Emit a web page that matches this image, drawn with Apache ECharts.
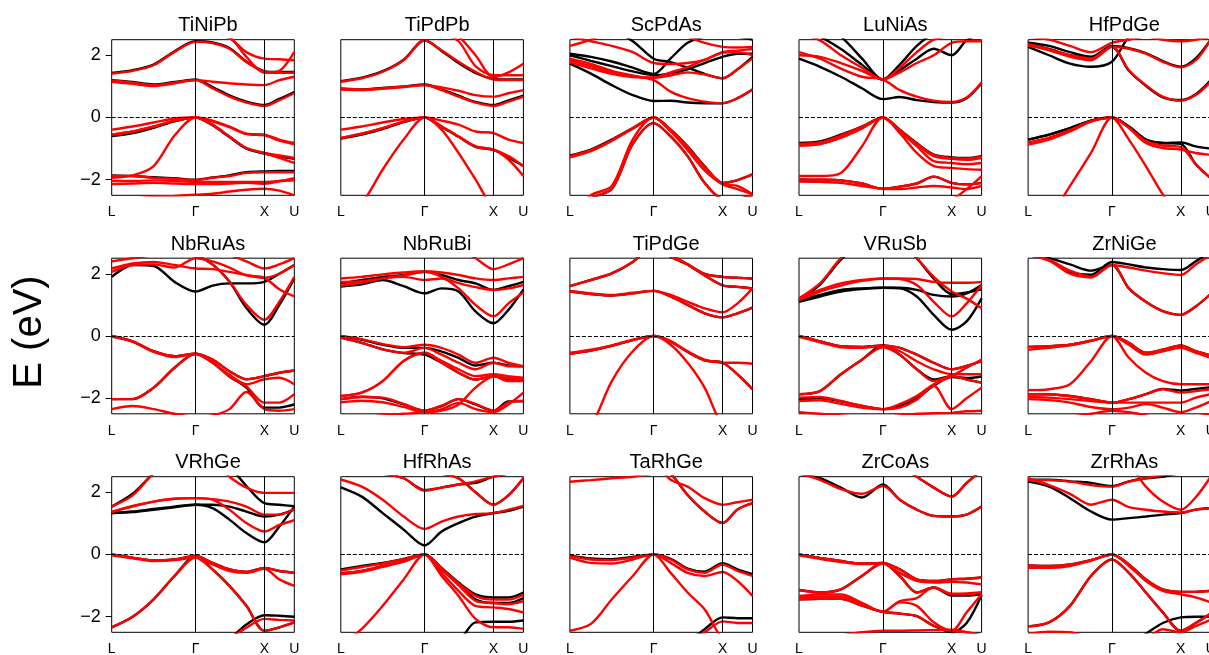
<!DOCTYPE html>
<html><head><meta charset="utf-8">
<script src="https://cdn.jsdelivr.net/npm/echarts@6/dist/echarts.min.js"></script>
<style>html,body{margin:0;padding:0;background:#fff}#c{width:1209px;height:655px}</style>
</head><body><div id="c"></div>
<script>
// k-path sample positions (L=0, Γ=84, X=153, U=183)
const kPath = [0,21,42,63,84,101,118,135,153,168,183];
const kTickPos = [0,84,153,183];
const kTickLabels = ['L','Γ','X','U'];
const yTicks = [-2,0,2];
const compounds = ['TiNiPb','TiPdPb','ScPdAs','LuNiAs','HfPdGe','NbRuAs','NbRuBi','TiPdGe','VRuSb','ZrNiGe','VRhGe','HfRhAs','TaRhGe','ZrCoAs','ZrRhAs'];

const TiNiPb_black = [
 [1.43,1.52,1.70,2.13,2.45,2.41,2.23,1.80,1.49,1.46,1.46],
 [1.20,1.14,1.06,1.14,1.22,0.98,0.71,0.51,0.40,0.60,0.82],
 [-0.60,-0.50,-0.33,-0.12,0,-0.25,-0.63,-1.00,-1.16,-1.25,-1.33],
 [-1.86,-1.88,-1.92,-1.95,-2.00,-1.93,-1.86,-1.76,-1.73,-1.72,-1.72]
];
const TiNiPb_red = [
 [1.41,1.50,1.68,2.11,2.43,2.39,2.21,1.78,1.47,1.44,1.44],
 [1.18,1.12,1.04,1.12,1.20,1.15,1.10,1.06,1.04,1.20,1.31],
 [1.15,1.08,1.01,1.10,1.20,0.94,0.67,0.48,0.37,0.56,0.78],
 [3.0,3.0,3.0,2.9,2.7,2.65,2.55,2.10,1.89,1.87,1.84],
 [3.2,3.2,3.1,3.0,2.9,2.8,2.6,1.95,1.44,1.50,2.11],
 [-0.39,-0.29,-0.16,-0.03,0,-0.10,-0.29,-0.52,-0.55,-0.71,-0.82],
 [-0.55,-0.45,-0.29,-0.10,0,-0.23,-0.61,-0.98,-1.14,-1.22,-1.30],
 [-0.55,-0.45,-0.29,-0.10,0,-0.23,-0.61,-0.98,-1.14,-1.30,-1.46],
 [-1.94,-1.86,-1.56,-0.58,0,-0.12,-0.31,-0.53,-0.57,-0.74,-0.86],
 [-1.88,-1.88,-1.94,-1.97,-2.01,-1.94,-1.88,-1.78,-1.76,-1.76,-1.76],
 [-2.04,-2.04,-2.02,-2.04,-2.07,-2.07,-2.07,-2.07,-2.07,-2.04,-2.02],
 [-2.14,-2.12,-2.10,-2.12,-2.14,-2.14,-2.12,-2.10,-2.13,-2.05,-1.95],
 [-2.60,-2.60,-2.55,-2.52,-2.48,-2.45,-2.38,-2.32,-2.29,-2.35,-2.50]
];

const TiPdPb_black = [
 [1.17,1.28,1.49,1.86,2.48,2.14,1.75,1.43,1.24,1.22,1.22],
 [0.92,0.90,0.95,1.00,1.06,0.90,0.70,0.50,0.40,0.55,0.70],
 [-0.68,-0.55,-0.37,-0.15,0,-0.30,-0.62,-0.94,-1.04,-1.28,-1.56]
];
const TiPdPb_red = [
 [1.15,1.26,1.47,1.84,2.48,2.16,1.79,1.47,1.22,1.20,1.20],
 [0.94,0.90,0.94,0.99,1.04,0.97,0.86,0.72,0.67,0.78,0.88],
 [0.90,0.88,0.92,0.98,1.04,0.88,0.67,0.48,0.37,0.51,0.67],
 [3.2,3.1,3.0,2.9,2.8,2.7,2.45,1.65,1.36,1.36,1.36],
 [3.3,3.2,3.1,3.0,2.9,2.8,2.6,2.0,1.30,1.45,1.73],
 [-0.39,-0.29,-0.16,-0.05,0,-0.10,-0.23,-0.45,-0.50,-0.71,-0.82],
 [-0.66,-0.52,-0.34,-0.13,0,-0.29,-0.61,-0.93,-1.03,-1.24,-1.56],
 [-0.66,-0.52,-0.34,-0.13,0,-0.29,-0.61,-0.93,-1.03,-1.35,-1.88],
 [-3.2,-2.75,-1.67,-0.71,0,-0.39,-1.14,-1.99,-2.9,-3.0,-3.0]
];

const ScPdAs_black = [
 [1.73,1.41,1.04,0.72,0.53,0.54,0.48,0.46,0.46,0.62,0.90],
 [2.00,1.82,1.65,1.48,1.36,1.42,1.55,1.75,1.95,2.05,2.05],
 [3.0,2.9,2.8,2.45,1.89,1.78,1.60,1.40,1.26,1.55,1.95],
 [2.05,1.95,1.80,1.60,1.40,1.90,2.40,2.60,2.70,2.60,2.50],
 [-1.22,-1.03,-0.71,-0.34,0,-0.39,-0.93,-1.56,-2.10,-2.01,-1.83],
 [-3.3,-2.6,-2.3,-0.85,-0.18,-0.61,-1.24,-2.10,-2.60,-2.60,-2.50]
];
const ScPdAs_red = [
 [1.89,1.72,1.50,1.35,1.20,0.83,0.62,0.51,0.46,0.62,0.90],
 [1.84,1.65,1.45,1.32,1.28,1.45,1.62,1.85,2.08,2.10,2.00],
 [1.77,1.58,1.40,1.30,1.28,1.35,1.45,1.38,1.26,1.55,1.90],
 [2.6,2.45,2.3,2.1,1.75,1.72,1.75,1.85,2.1,2.15,2.2],
 [2.3,2.5,2.8,3.0,3.0,2.9,2.6,2.4,2.27,2.25,2.27],
 [-1.24,-1.05,-0.73,-0.35,0,-0.40,-0.95,-1.58,-2.10,-2.01,-1.83],
 [-1.28,-1.08,-0.75,-0.36,0,-0.42,-0.97,-1.60,-2.13,-2.20,-2.47],
 [-3.3,-2.6,-2.3,-0.85,-0.18,-0.61,-1.24,-2.10,-2.60,-2.60,-2.50],
 [-3.2,-2.5,-2.2,-0.70,0,-0.45,-1.05,-1.70,-2.15,-2.30,-2.47]
];

const LuNiAs_black = [
 [1.89,1.63,1.31,0.94,0.59,0.66,0.56,0.50,0.48,0.62,1.10],
 [2.9,2.6,2.2,1.7,1.22,1.52,1.89,2.21,2.00,2.48,2.70],
 [3.2,3.0,2.6,1.9,1.22,1.7,2.3,2.7,2.8,2.8,2.8],
 [-0.82,-0.77,-0.55,-0.29,0,-0.39,-0.82,-1.19,-1.28,-1.30,-1.24],
 [-1.99,-2.00,-2.02,-2.12,-2.29,-2.22,-2.12,-1.90,-2.10,-2.15,-2.10]
];
const LuNiAs_red = [
 [2.10,1.89,1.57,1.31,1.22,0.88,0.67,0.54,0.50,0.64,1.12],
 [2.7,2.48,2.0,1.6,1.22,1.6,2.1,2.5,2.6,2.6,2.6],
 [2.0,1.95,1.75,1.5,1.22,1.45,1.75,2.0,2.4,2.45,2.45],
 [-0.85,-0.80,-0.58,-0.30,0,-0.40,-0.84,-1.21,-1.30,-1.32,-1.26],
 [-0.90,-0.85,-0.65,-0.35,0,-0.45,-0.92,-1.40,-1.46,-1.50,-1.46],
 [-0.90,-0.85,-0.65,-0.35,0,-0.50,-1.14,-1.56,-1.62,-1.66,-1.68],
 [-1.88,-1.88,-1.78,-0.93,0,-0.42,-0.86,-1.24,-1.33,-1.36,-1.30],
 [-1.99,-2.00,-2.02,-2.12,-2.29,-2.22,-2.12,-1.90,-2.10,-2.15,-2.10],
 [-2.06,-2.07,-2.10,-2.20,-2.29,-2.30,-2.25,-2.20,-2.25,-2.30,-2.20],
 [-2.8,-2.8,-2.7,-2.6,-2.6,-2.6,-2.6,-2.6,-2.6,-2.3,-1.88]
];

const HfPdGe_black = [
 [2.27,2.00,1.73,1.63,1.79,2.60,3.00,3.20,3.20,3.20,3.20],
 [2.35,2.20,2.00,1.90,2.27,1.50,1.02,0.65,0.56,0.75,1.20],
 [2.40,2.30,2.10,1.95,2.30,2.23,2.07,1.81,1.63,1.90,2.50],
 [-0.71,-0.55,-0.34,-0.10,0,-0.29,-0.71,-0.82,-0.80,-0.93,-1.00],
 [-0.71,-0.55,-0.34,-0.10,0,-0.29,-0.71,-0.82,-0.85,-1.50,-1.95]
];
const HfPdGe_red = [
 [2.32,2.16,1.95,1.84,2.27,1.52,1.04,0.67,0.54,0.72,1.15],
 [2.36,2.20,2.00,1.90,2.27,2.21,2.05,1.79,1.61,1.84,2.50],
 [2.6,2.5,2.3,2.1,2.4,2.5,2.6,2.5,2.45,2.5,2.6],
 [-0.87,-0.71,-0.45,-0.13,0,-0.34,-0.82,-0.98,-1.03,-1.14,-1.20],
 [-0.80,-0.65,-0.40,-0.12,0,-0.32,-0.76,-0.90,-0.95,-1.50,-1.95],
 [-3.5,-3.2,-2.2,-1.14,0,-0.71,-1.56,-2.47,-3.2,-3.4,-3.5]
];

const NbRuAs_black = [
 [1.90,2.28,2.25,1.74,1.43,1.62,1.69,1.69,1.74,2.00,2.28],
 [3.0,3.0,3.0,2.8,2.6,2.3,1.75,0.90,0.36,1.00,1.85],
 [0,-0.17,-0.49,-0.65,-0.57,-0.76,-1.13,-1.39,-1.29,-1.18,-1.11],
 [-2.03,-2.03,-1.66,-1.02,-0.57,-0.85,-1.30,-1.66,-2.30,-2.30,-2.20]
];
const NbRuAs_red = [
 [2.17,2.33,2.38,2.28,2.17,2.15,2.06,1.96,1.87,2.00,2.28],
 [2.06,2.28,2.30,2.20,2.50,2.40,2.20,1.95,1.87,1.50,1.27],
 [3.0,3.0,3.0,2.8,2.6,2.3,1.75,1.00,0.52,1.10,1.90],
 [2.4,2.5,2.6,2.7,2.8,2.7,2.6,2.4,2.17,2.3,2.5],
 [0,-0.17,-0.49,-0.65,-0.57,-0.76,-1.13,-1.39,-1.29,-1.18,-1.11],
 [-0.02,-0.19,-0.51,-0.68,-0.57,-0.86,-1.24,-1.55,-1.39,-1.34,-1.55],
 [-2.03,-2.03,-1.66,-1.02,-0.57,-0.85,-1.30,-1.62,-2.14,-2.14,-1.87],
 [-2.35,-2.25,-2.35,-2.50,-2.60,-2.55,-2.35,-1.80,-2.35,-2.40,-2.35]
];

const NbRuBi_black = [
 [1.59,1.66,1.80,1.60,1.37,1.53,1.43,0.79,0.41,0.84,1.50],
 [1.69,1.80,1.90,1.96,2.06,1.96,1.80,1.69,1.48,1.60,1.74],
 [0,-0.12,-0.28,-0.38,-0.38,-0.50,-0.70,-0.95,-0.86,-0.95,-0.97],
 [-0.05,-0.22,-0.43,-0.55,-0.60,-0.86,-1.18,-1.40,-1.29,-1.42,-1.42],
 [-2.03,-1.95,-2.00,-2.20,-2.40,-2.25,-2.03,-2.20,-2.40,-2.10,-2.10]
];
const NbRuBi_red = [
 [1.85,1.90,1.98,2.04,2.08,2.04,1.96,1.85,1.80,1.85,1.90],
 [1.74,1.76,1.85,1.90,1.80,1.85,1.70,1.57,1.48,1.53,1.64],
 [1.62,1.72,1.85,1.95,2.06,1.90,1.53,1.00,0.63,1.05,1.40],
 [2.6,2.8,3.0,3.0,3.0,3.0,2.8,2.5,2.15,2.3,2.5],
 [0,-0.10,-0.26,-0.36,-0.28,-0.38,-0.60,-0.86,-0.70,-0.86,-0.97],
 [-0.05,-0.22,-0.43,-0.54,-0.38,-0.60,-0.86,-1.07,-0.86,-0.97,-0.97],
 [-1.93,-1.82,-1.45,-0.80,-0.54,-0.80,-1.07,-1.29,-1.23,-1.29,-1.34],
 [-1.93,-1.82,-1.45,-0.80,-0.54,-0.86,-1.18,-1.40,-1.29,-1.45,-1.45],
 [-2.03,-1.96,-1.98,-2.18,-2.40,-2.24,-2.03,-2.18,-2.40,-2.13,-2.08],
 [-2.13,-2.08,-2.13,-2.28,-2.45,-2.40,-2.20,-1.66,-1.30,-1.35,-1.40],
 [-2.6,-2.6,-2.55,-2.5,-2.45,-2.35,-2.15,-2.35,-2.45,-2.2,-1.82]
];

const TiPdGe_black = [
 [1.43,1.35,1.30,1.37,1.45,1.27,1.00,0.73,0.60,0.73,0.91],
 [1.60,1.80,2.01,2.38,2.90,2.55,2.30,2.00,1.90,1.87,1.85],
 [2.9,3.0,3.0,3.0,2.9,2.6,2.3,1.95,1.63,1.58,1.53],
 [-0.57,-0.47,-0.32,-0.13,0,-0.18,-0.51,-0.78,-0.86,-1.23,-1.71]
];
const TiPdGe_red = [
 [1.60,1.80,2.01,2.38,2.90,2.55,2.30,2.00,1.90,1.87,1.85],
 [1.45,1.37,1.32,1.39,1.45,1.32,1.10,0.89,0.76,1.05,1.53],
 [1.43,1.35,1.30,1.37,1.45,1.27,1.00,0.73,0.60,0.73,0.91],
 [2.9,3.0,3.0,3.0,2.9,2.6,2.3,1.95,1.63,1.58,1.53],
 [-0.54,-0.44,-0.30,-0.12,0,-0.16,-0.49,-0.76,-0.86,-0.86,-0.89],
 [-0.57,-0.47,-0.32,-0.13,0,-0.18,-0.51,-0.78,-0.86,-1.23,-1.71],
 [-3.5,-2.9,-1.45,-0.49,0,-0.28,-0.86,-1.66,-2.9,-3.2,-3.3]
];

const VRuSb_black = [
 [1.10,1.27,1.43,1.51,1.55,1.53,1.27,0.68,0.20,0.47,1.21],
 [1.15,1.32,1.48,1.53,1.55,1.55,1.48,1.32,1.27,1.37,1.64],
 [1.15,1.65,2.45,3.0,3.2,3.0,2.5,1.85,1.35,1.40,1.50],
 [0,-0.17,-0.33,-0.35,-0.30,-0.38,-0.60,-0.86,-1.07,-0.96,-0.81],
 [-1.87,-1.77,-1.23,-0.76,-0.30,-0.60,-1.07,-1.40,-1.29,-1.40,-1.50],
 [-2.03,-2.00,-2.10,-2.25,-2.35,-2.25,-2.00,-1.60,-1.32,-1.35,-1.30]
];
const VRuSb_red = [
 [1.21,1.48,1.69,1.80,1.85,1.83,1.64,1.10,0.63,1.05,1.64],
 [1.15,1.43,1.62,1.77,1.85,1.85,1.83,1.74,1.71,1.71,1.74],
 [1.21,1.69,2.5,3.0,3.2,3.0,2.5,1.9,1.43,1.2,0.89],
 [0,-0.17,-0.33,-0.35,-0.30,-0.38,-0.60,-0.86,-1.07,-0.96,-0.81],
 [-0.03,-0.20,-0.36,-0.38,-0.33,-0.49,-0.81,-1.07,-1.23,-1.23,-1.23],
 [-1.87,-1.77,-1.23,-0.76,-0.36,-0.60,-1.07,-1.45,-1.29,-1.40,-1.50],
 [-1.98,-1.96,-2.09,-2.24,-2.35,-2.19,-1.93,-1.55,-1.29,-1.02,-0.76],
 [-2.09,-2.07,-2.18,-2.30,-2.35,-2.30,-2.05,-1.60,-2.35,-2.00,-1.66],
 [-2.45,-2.50,-2.55,-2.60,-2.60,-2.55,-2.50,-2.48,-2.47,-2.42,-2.40]
];

const ZrNiGe_black = [
 [2.6,2.45,2.05,1.97,2.38,2.30,2.20,2.15,2.12,2.40,2.70],
 [2.6,2.5,2.3,2.1,2.28,1.53,1.10,0.80,0.68,0.95,1.35],
 [-0.35,-0.33,-0.28,-0.15,0,-0.22,-0.54,-0.44,-0.30,-0.49,-0.62],
 [-1.87,-1.87,-1.93,-2.03,-2.14,-2.03,-1.87,-1.70,-1.75,-1.70,-1.65]
];
const ZrNiGe_red = [
 [2.6,2.42,2.00,1.88,2.28,2.20,2.10,2.02,1.96,2.30,2.60],
 [2.6,2.45,2.10,1.90,2.28,1.53,1.10,0.80,0.68,0.95,1.35],
 [-0.35,-0.33,-0.28,-0.15,0,-0.22,-0.54,-0.44,-0.30,-0.49,-0.62],
 [-0.44,-0.38,-0.30,-0.16,0,-0.28,-0.60,-0.49,-0.38,-0.54,-0.70],
 [-1.74,-1.71,-1.55,-0.81,0,-0.70,-1.18,-1.45,-1.55,-1.55,-1.55],
 [-1.87,-1.87,-1.93,-2.03,-2.14,-2.03,-1.87,-1.71,-1.82,-1.77,-1.71],
 [-1.96,-1.98,-2.03,-2.09,-2.14,-2.14,-2.14,-2.14,-2.14,-1.98,-1.87],
 [-2.03,-2.06,-2.14,-2.28,-2.35,-2.30,-2.19,-2.30,-2.45,-2.30,-2.10],
 [-2.7,-2.7,-2.6,-2.5,-2.40,-2.45,-2.55,-2.7,-2.7,-2.6,-2.5]
];

const VRhGe_black = [
 [1.33,1.38,1.46,1.54,1.60,1.49,1.12,0.69,0.39,0.90,1.54],
 [1.33,1.36,1.44,1.52,1.60,1.60,1.54,1.38,1.22,1.28,1.44],
 [1.54,1.95,2.6,3.0,3.2,3.0,2.8,2.2,1.65,1.6,1.55],
 [0,-0.10,-0.19,-0.16,-0.05,-0.27,-0.48,-0.56,-0.43,-0.53,-0.59],
 [-2.34,-2.00,-1.44,-0.69,-0.05,-0.48,-1.01,-1.65,-2.45,-2.34,-2.18],
 [-3.0,-3.0,-3.0,-3.0,-3.0,-2.9,-2.7,-2.25,-1.95,-1.97,-2.00]
];
const VRhGe_red = [
 [1.38,1.54,1.70,1.79,1.81,1.76,1.44,1.01,0.74,0.95,1.10],
 [1.36,1.56,1.70,1.79,1.81,1.78,1.70,1.54,1.28,1.28,1.46],
 [1.54,1.90,2.6,3.0,3.2,3.0,2.5,2.15,1.98,1.98,1.98],
 [0,-0.10,-0.19,-0.16,-0.05,-0.27,-0.48,-0.56,-0.43,-0.53,-0.59],
 [-0.03,-0.12,-0.21,-0.18,-0.10,-0.32,-0.53,-0.59,-0.46,-0.80,-1.01],
 [-2.34,-2.00,-1.44,-0.69,-0.10,-0.48,-1.01,-1.65,-2.45,-2.34,-2.18],
 [-3.0,-3.0,-3.0,-3.0,-3.0,-2.9,-2.7,-2.35,-2.07,-2.10,-2.12]
];

const HfRhAs_black = [
 [2.16,1.86,1.33,0.80,0.29,0.74,1.01,1.22,1.33,1.40,1.54],
 [2.8,2.7,2.6,2.45,2.07,2.15,2.25,2.30,2.50,2.60,2.70],
 [3.0,3.0,3.0,3.0,2.8,2.6,2.45,2.0,1.60,1.90,2.45],
 [-0.48,-0.37,-0.27,-0.14,0,-0.43,-0.90,-1.28,-1.38,-1.38,-1.22],
 [-0.61,-0.53,-0.37,-0.21,0,-0.48,-0.96,-1.44,-1.56,-1.56,-1.40],
 [-3.0,-3.0,-3.0,-3.0,-3.0,-3.0,-2.8,-2.18,-2.16,-2.16,-2.12]
];
const HfRhAs_red = [
 [2.41,2.18,1.76,1.22,0.82,1.06,1.22,1.30,1.33,1.44,1.56],
 [2.8,2.7,2.6,2.45,2.05,2.15,2.25,2.35,2.50,2.60,2.70],
 [3.0,3.0,3.0,3.0,2.8,2.6,2.45,2.0,1.60,1.90,2.45],
 [-0.52,-0.40,-0.29,-0.15,0,-0.45,-0.93,-1.33,-1.45,-1.45,-1.30],
 [-0.61,-0.53,-0.37,-0.21,0,-0.48,-0.98,-1.49,-1.56,-1.60,-1.50],
 [-0.64,-0.56,-0.40,-0.23,0,-0.59,-1.17,-1.65,-1.70,-1.75,-1.86],
 [-2.9,-2.39,-1.65,-0.80,0,-0.69,-1.33,-2.07,-2.34,-2.34,-2.39]
];

const TaRhGe_black = [
 [2.7,2.8,2.9,3.0,3.0,2.6,1.91,1.38,1.01,1.45,1.65],
 [-0.03,-0.13,-0.15,-0.08,0,-0.14,-0.45,-0.55,-0.28,-0.48,-0.63],
 [-3.0,-3.0,-3.0,-3.0,-3.0,-3.0,-2.8,-2.4,-2.02,-2.05,-2.05]
];
const TaRhGe_red = [
 [2.34,2.39,2.45,2.50,2.60,2.70,2.80,2.90,3.0,3.0,3.0],
 [2.6,2.7,2.8,2.9,2.9,2.4,2.18,1.81,1.60,1.68,1.76],
 [2.7,2.8,2.9,3.0,3.0,2.6,1.91,1.38,1.01,1.45,1.65],
 [-0.05,-0.16,-0.18,-0.10,0,-0.16,-0.48,-0.59,-0.32,-0.53,-0.69],
 [-0.10,-0.27,-0.29,-0.16,0,-0.27,-0.59,-0.69,-0.56,-0.85,-1.33],
 [-2.45,-2.23,-1.44,-0.69,0,-0.59,-1.22,-1.76,-2.7,-2.8,-2.8],
 [-3.0,-3.0,-3.0,-3.0,-3.0,-3.0,-2.8,-2.5,-2.15,-2.20,-2.20]
];

const ZrCoAs_black = [
 [2.6,2.45,2.15,1.83,2.25,1.76,1.44,1.24,1.22,1.28,1.54],
 [3.0,3.0,3.0,2.9,2.6,2.8,2.5,2.15,1.86,2.3,2.7],
 [0,-0.11,-0.21,-0.29,-0.27,-0.48,-0.80,-0.85,-0.80,-0.78,-0.74],
 [-1.14,-1.22,-1.12,-0.69,-0.27,-0.69,-1.22,-1.06,-1.32,-1.32,-1.28],
 [-1.44,-1.42,-1.42,-1.64,-1.84,-1.90,-1.98,-2.29,-2.50,-2.20,-1.30]
];
const ZrCoAs_red = [
 [2.6,2.40,2.10,1.95,2.20,1.76,1.44,1.24,1.22,1.28,1.54],
 [3.0,3.0,3.0,2.9,2.6,2.8,2.5,2.15,1.86,2.3,2.7],
 [0,-0.11,-0.21,-0.29,-0.27,-0.48,-0.80,-0.85,-0.80,-0.78,-0.74],
 [-0.03,-0.14,-0.24,-0.31,-0.29,-0.59,-0.85,-0.90,-0.88,-0.90,-0.96],
 [-1.14,-1.22,-1.12,-0.69,-0.29,-0.69,-1.22,-1.06,-1.28,-1.28,-1.22],
 [-1.33,-1.28,-1.28,-1.55,-1.84,-1.50,-1.40,-1.05,-1.26,-1.25,-1.22],
 [-1.38,-1.35,-1.35,-1.60,-1.84,-1.54,-1.65,-2.18,-2.45,-1.86,-1.28],
 [-1.44,-1.42,-1.42,-1.64,-1.84,-1.90,-1.98,-2.29,-2.45,-2.50,-2.60],
 [-2.8,-2.7,-2.6,-2.5,-2.45,-2.45,-2.44,-2.43,-2.42,-2.5,-2.6]
];

const ZrRhAs_black = [
 [2.34,2.18,1.81,1.38,1.12,1.17,1.22,1.28,1.33,1.44,1.49],
 [2.40,2.40,2.35,2.30,2.20,2.35,2.45,2.50,2.60,2.60,2.60],
 [-0.35,-0.37,-0.32,-0.18,0,-0.32,-0.80,-1.12,-1.20,-1.20,-1.17],
 [-2.31,-2.18,-1.65,-0.69,-0.16,-0.59,-1.22,-1.86,-2.45,-2.20,-1.90],
 [-3.0,-3.0,-3.0,-3.0,-3.0,-2.9,-2.55,-2.2,-2.02,-2.00,-2.00]
];
const ZrRhAs_red = [
 [2.45,2.23,1.95,1.60,1.76,1.52,1.44,1.38,1.35,1.44,1.49],
 [2.39,2.39,2.34,2.23,2.18,2.34,2.45,2.55,2.60,2.60,2.60],
 [3.0,3.0,3.0,3.0,3.0,2.9,2.18,1.70,1.44,1.84,2.50],
 [-0.35,-0.37,-0.32,-0.18,0,-0.32,-0.80,-1.12,-1.20,-1.20,-1.17],
 [-0.43,-0.43,-0.37,-0.20,0,-0.37,-0.85,-1.17,-1.28,-1.38,-1.54],
 [-2.31,-2.18,-1.65,-0.69,-0.16,-0.59,-1.22,-1.86,-2.45,-2.20,-1.90],
 [-2.55,-2.48,-2.50,-2.70,-2.80,-2.80,-2.70,-2.40,-2.50,-2.30,-2.10]
];

const panelBands = [
 [TiNiPb_black, TiNiPb_red], [TiPdPb_black, TiPdPb_red], [ScPdAs_black, ScPdAs_red],
 [LuNiAs_black, LuNiAs_red], [HfPdGe_black, HfPdGe_red],
 [NbRuAs_black, NbRuAs_red], [NbRuBi_black, NbRuBi_red], [TiPdGe_black, TiPdGe_red],
 [VRuSb_black, VRuSb_red], [ZrNiGe_black, ZrNiGe_red],
 [VRhGe_black, VRhGe_red], [HfRhAs_black, HfRhAs_red], [TaRhGe_black, TaRhGe_red],
 [ZrCoAs_black, ZrCoAs_red], [ZrRhAs_black, ZrRhAs_red]
];

// layout
const FONT = '"Liberation Sans", Arial, sans-serif';
const colLeft = c => 111.7 + c * 229.1;
const rowTop = r => 39.7 + r * 218.5;
const PW = 182.6, PH = 155.6;

const grids = [], xAxes = [], yAxes = [], series = [], titles = [];
compounds.forEach((name, i) => {
  const r = Math.floor(i / 5), c = i % 5;
  grids.push({left: colLeft(c), top: rowTop(r), width: PW, height: PH,
    show: true, borderColor: '#000', borderWidth: 1, backgroundColor: 'transparent',
    containLabel: false, outerBoundsMode: 'none'});
  xAxes.push({type: 'value', gridIndex: i, min: 0, max: 183,
    axisLine: {show: false}, splitLine: {show: false},
    axisTick: {show: false},
    axisLabel: {show: true, customValues: kTickPos, margin: 10, fontSize: 14, color: '#000', fontFamily: FONT,
      hideOverlap: false, formatter: v => kTickLabels[kTickPos.indexOf(v)] || ''}});
  const first = c === 0;
  yAxes.push({type: 'value', gridIndex: i, min: -2.5, max: 2.5,
    axisLine: {show: false}, splitLine: {show: false},
    axisTick: {show: first, customValues: yTicks, length: 6, lineStyle: {color: '#000', width: 1}},
    axisLabel: {show: first, customValues: yTicks, margin: 11, fontSize: 18, color: '#000', fontFamily: FONT,
      formatter: v => v < 0 ? '\u2212' + Math.abs(v) : String(v)}});
  titles.push({text: name, left: colLeft(c) + PW / 2, top: rowTop(r) - 29, textAlign: 'center',
    textStyle: {fontSize: 20, fontWeight: 'normal', color: '#000', fontFamily: FONT}});
  // reference lines
  series.push({type: 'line', xAxisIndex: i, yAxisIndex: i, data: [], silent: true, z: 1,
    markLine: {silent: true, symbol: ['none', 'none'], label: {show: false}, animation: false,
      data: [
        {xAxis: kTickPos[1], lineStyle: {color: '#000', width: 1, type: 'solid'}},
        {xAxis: kTickPos[2], lineStyle: {color: '#000', width: 1, type: 'solid'}},
        {yAxis: 0, lineStyle: {color: '#000', width: 1, type: [4, 2]}}
      ]}});
  const [blk, red] = panelBands[i];
  blk.forEach(b => series.push({type: 'line', xAxisIndex: i, yAxisIndex: i, smooth: 0.3, symbol: 'none',
    silent: true, z: 2, lineStyle: {color: '#000', width: 2.4}, data: kPath.map((k, j) => [k, b[j]])}));
  red.forEach(b => series.push({type: 'line', xAxisIndex: i, yAxisIndex: i, smooth: 0.3, symbol: 'none',
    silent: true, z: 3, lineStyle: {color: '#ff0000', width: 2.4}, data: kPath.map((k, j) => [k, b[j]])}));
});

const chart = echarts.init(document.getElementById('c'), null, {renderer: 'canvas'});
chart.setOption({
  animation: false,
  backgroundColor: '#fff',
  title: titles,
  grid: grids, xAxis: xAxes, yAxis: yAxes, series: series,
  graphic: [{type: 'text', x: 30, y: 332, rotation: Math.PI / 2,
    style: {text: 'E (eV)', x: 0, y: 0, align: 'center', verticalAlign: 'middle', textAlign: 'center', textVerticalAlign: 'middle',
      font: '40px "Liberation Sans", Arial, sans-serif', fill: '#000'}}]
});
</script></body></html>
